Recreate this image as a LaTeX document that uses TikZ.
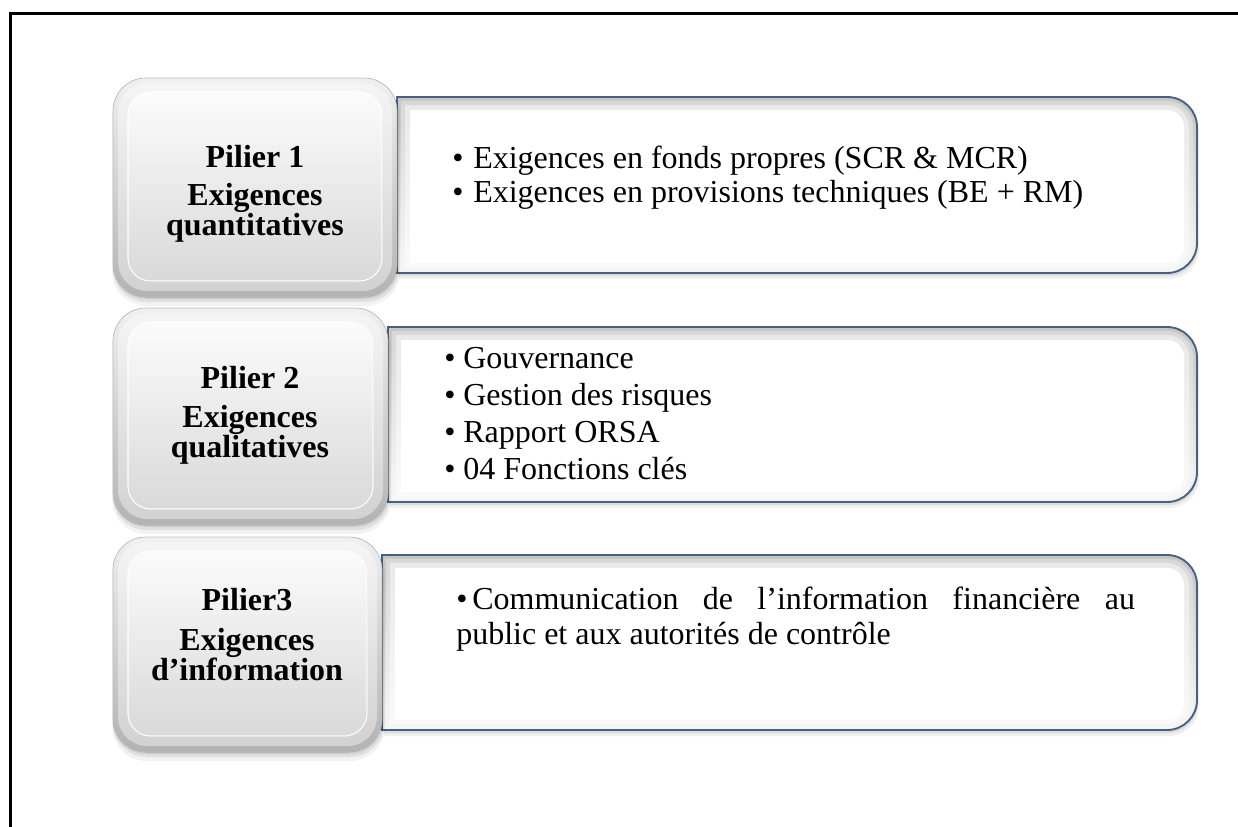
\documentclass[tikz,border=0pt]{standalone}
\usepackage{fontspec}
\setmainfont{Liberation Serif}
\definecolor{panelblue}{HTML}{46617F}

% Outline of a text panel: square left corners, rounded right corners.
% #1 = left, #2 = top, #3 = right, #4 = bottom, #5 = corner radius (px units, y downwards)
\newcommand{\rshape}[5]{({#1},{#2}) -- ({#3-#5},{#2}) arc[start angle=-90,end angle=0,radius=#5] -- ({#3},{#4-#5}) arc[start angle=0,end angle=90,radius=#5] -- ({#1},{#4}) -- cycle}

% White bevelled text panel with a blue-grey outline
\newcommand{\rpanel}[4]{%
  \begin{scope}[shift={(2,6)}]\fill[black,opacity=0.06] \rshape{#1}{#2}{#3}{#4}{30};\end{scope}
  \begin{scope}[shift={(1,3)}]\fill[black,opacity=0.08] \rshape{#1}{#2}{#3}{#4}{30};\end{scope}
  \fill[top color=gray!45, bottom color=gray!8] \rshape{#1}{#2}{#3}{#4}{30};
  \fill[white,opacity=0.3] \rshape{#1+4}{#2+4}{#3-4}{#4-3}{26};
  \fill[white,opacity=0.45] \rshape{#1+8}{#2+8}{#3-8}{#4-6}{22};
  \fill[white] \rshape{#1+13}{#2+13}{#3-13}{#4-10}{17};
  \draw[panelblue, line width=1.4pt] \rshape{#1}{#2}{#3}{#4}{30};
}

% Grey bevelled button holding a pillar title
\newcommand{\lpanel}[4]{%
  \fill[black,opacity=0.05,rounded corners=26pt] ({#1-1},{#2+4}) rectangle ({#3+3},{#4+9});
  \fill[black,opacity=0.07,rounded corners=25pt] ({#1},{#2+3}) rectangle ({#3+2},{#4+5});
  \fill[black,opacity=0.08,rounded corners=25pt] ({#1},{#2+2}) rectangle ({#3+1},{#4+2});
  \fill[rounded corners=24.75pt, top color=gray!12, middle color=white, bottom color=gray!60] (#1,#2) rectangle (#3,#4);
  \draw[gray!50, line width=0.5pt, rounded corners=24.75pt] (#1,#2) rectangle (#3,#4);
  \fill[white,opacity=0.4,rounded corners=22pt] ({#1+5},{#2+5}) rectangle ({#3-5},{#4-6});
  \fill[rounded corners=17pt, top color=gray!3, bottom color=gray!30] ({#1+15},{#2+14}) rectangle ({#3-15},{#4-16});
  \draw[white, line width=0.8pt, rounded corners=17pt] ({#1+15},{#2+14}) rectangle ({#3-15},{#4-16});
}

\begin{document}
\begin{tikzpicture}[x=0.75pt,y=-0.75pt]
\tikzset{
  titletext/.style={font=\fontsize{24}{28}\selectfont\bfseries, anchor=base, inner sep=0pt},
  itemtext/.style={font=\fontsize{24}{28}\selectfont, anchor=base west, inner sep=0pt},
  bulletmark/.style={font=\fontsize{24}{28}\selectfont, anchor=base west, inner sep=0pt},
  frameline/.style={line width=2.25pt},
}
\useasboundingbox (0,0) rectangle (1238,826);
\clip (0,0) rectangle (1238,826);
\fill[white] (0,0) rectangle (1238,826);

% page frame (only left and top edges fall inside)
\draw[frameline] (10.5,900) -- (10.5,13.5) -- (1300,13.5);

% ---- Pillar 1
\rpanel{397}{97}{1197}{273}
\lpanel{113}{78}{397}{297}
\node[titletext] (p1a) at (255,167) {Pilier 1};
\node[titletext] (p1b) at (255,205) {Exigences};
\node[titletext] (p1c) at (255,235) {quantitatives};
\node[bulletmark] (p1d) at (452,168) {•};
\node[itemtext] (p1e) at (473,168) {Exigences en fonds propres (SCR \& MCR)};
\node[bulletmark] (p1f) at (452,202) {•};
\node[itemtext] (p1g) at (473,202) {Exigences en provisions techniques (BE + RM)};

% ---- Pillar 2
\rpanel{388}{327}{1197}{502}
\lpanel{113}{308}{388}{525}
\node[titletext] (p2a) at (250,388) {Pilier 2};
\node[titletext] (p2b) at (250,427) {Exigences};
\node[titletext] (p2c) at (250,457) {qualitatives};
\node[bulletmark] (p2d) at (444,368) {•};
\node[itemtext] (p2e) at (463,368) {Gouvernance};
\node[bulletmark] (p2f) at (444,405) {•};
\node[itemtext] (p2g) at (463,405) {Gestion des risques};
\node[bulletmark] (p2h) at (444,442) {•};
\node[itemtext] (p2i) at (463,442) {Rapport ORSA};
\node[bulletmark] (p2j) at (444,479) {•};
\node[itemtext] (p2k) at (463,479) {04 Fonctions clés};

% ---- Pillar 3
\rpanel{382}{555}{1197}{730}
\lpanel{113}{537}{382}{752}
\node[titletext] (p3a) at (247,610) {Pilier3};
\node[titletext] (p3b) at (247,650) {Exigences};
\node[titletext] (p3c) at (247,680) {d’information};
\node[bulletmark] (p3d) at (456,609) {•};
\node[itemtext] (p3e) at (472,609) {\makebox[497pt][s]{Communication de l’information financière au}};
\node[itemtext] (p3f) at (456,644) {public et aux autorités de contrôle};
\end{tikzpicture}
\end{document}
